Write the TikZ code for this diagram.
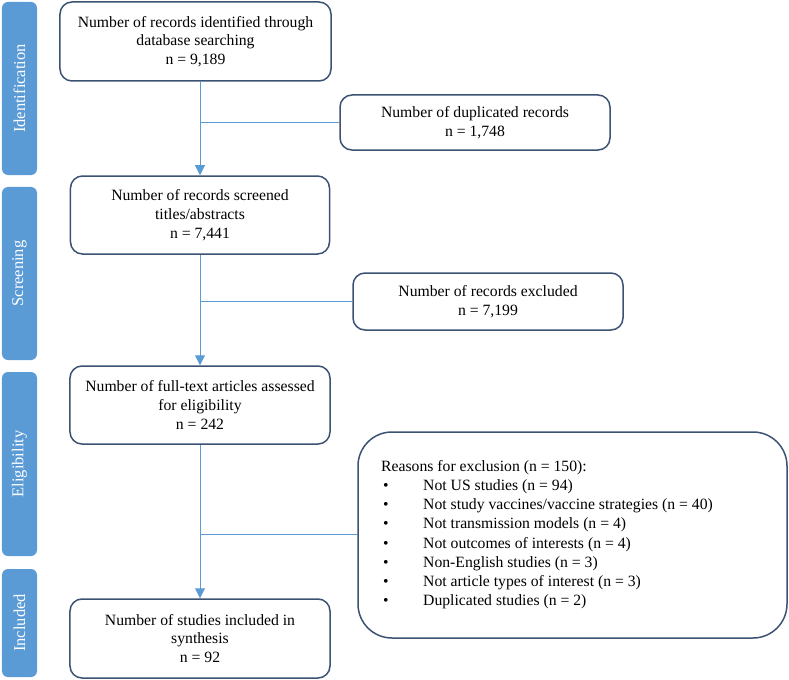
\documentclass[tikz,border=0pt]{standalone}
\usepackage{fontspec}
\setmainfont{Liberation Serif}
\usetikzlibrary{arrows.meta}
\definecolor{linkblue}{HTML}{5B9BD5}
\definecolor{boxedge}{HTML}{3B5272}
\definecolor{sidefill}{HTML}{5B9BD5}
\tikzset{
  box/.style={draw=boxedge, line width=1.5bp, rounded corners=12bp, fill=white, align=center, inner sep=0pt, font=\fontsize{15.7bp}{18.8bp}\selectfont},
  sidebar/.style={fill=sidefill, rounded corners=6bp, rotate=90, minimum height=35bp, inner sep=0pt, text=white, font=\fontsize{16.5bp}{18bp}\selectfont},
  conn/.style={draw=linkblue, line width=1bp},
  arr/.style={conn, -{Triangle[width=10bp,length=10bp]}, color=linkblue}
}
\begin{document}
\begin{tikzpicture}[x=1bp,y=-1bp]
\useasboundingbox (0,0) rectangle (789,680);
% side bars
\node[sidebar, minimum width=173bp] (sid) at (19.5,88.5) {Identification};
\node[sidebar, minimum width=173bp] (sscr) at (19.5,273.5) {Screening};
\node[sidebar, minimum width=184bp] (selig) at (19.5,464) {Eligibility};
\node[sidebar, minimum width=108bp] (sinc) at (19.5,623) {Included};
% main boxes
\node[box, minimum width=271bp, minimum height=79bp] (b1) at (195.5,41.5) {Number of records identified through\\database searching\\n = 9,189};
\node[box, minimum width=270bp, minimum height=55bp] (dup) at (475,122.5) {Number of duplicated records\\n = 1,748};
\node[box, minimum width=259bp, minimum height=78bp] (b2) at (200,215) {Number of records screened\\titles/abstracts\\n = 7,441};
\node[box, minimum width=270bp, minimum height=57bp] (exc) at (488,301.5) {Number of records excluded\\n = 7,199};
\node[box, minimum width=260bp, minimum height=78bp] (b3) at (200,405) {Number of full-text articles assessed\\for eligibility\\n = 242};
\node[box, minimum width=429bp, minimum height=206bp, rounded corners=34bp] (rea) at (572.5,535) {};
\node[anchor=north west, inner sep=0pt, align=left, font=\fontsize{15.7bp}{19.2bp}\selectfont] (reatext) at (381,460) {Reasons for exclusion (n = 150):\\
\hspace*{2bp}\makebox[40bp][l]{•}Not US studies (n = 94)\\
\hspace*{2bp}\makebox[40bp][l]{•}Not study vaccines/vaccine strategies (n = 40)\\
\hspace*{2bp}\makebox[40bp][l]{•}Not transmission models (n = 4)\\
\hspace*{2bp}\makebox[40bp][l]{•}Not outcomes of interests (n = 4)\\
\hspace*{2bp}\makebox[40bp][l]{•}Non-English studies (n = 3)\\
\hspace*{2bp}\makebox[40bp][l]{•}Not article types of interest (n = 3)\\
\hspace*{2bp}\makebox[40bp][l]{•}Duplicated studies (n = 2)};
\node[box, minimum width=260bp, minimum height=79bp] (b4) at (200,638.5) {Number of studies included in\\synthesis\\n = 92};
% connectors
\coordinate (j1) at (b2.north |- dup.west);
\coordinate (j2) at (b2.north |- exc.west);
\coordinate (j3) at (b2.north |- 0,534);
\draw[arr] (b1.south -| b2.north) -- (b2.north);
\draw[conn] (j1) -- (dup.west);
\draw[arr] (b2.south) -- (b3.north);
\draw[conn] (j2) -- (exc.west);
\draw[arr] (b3.south) -- (b4.north);
\draw[conn] (j3) -- (j3 -| rea.west);
\end{tikzpicture}
\end{document}
